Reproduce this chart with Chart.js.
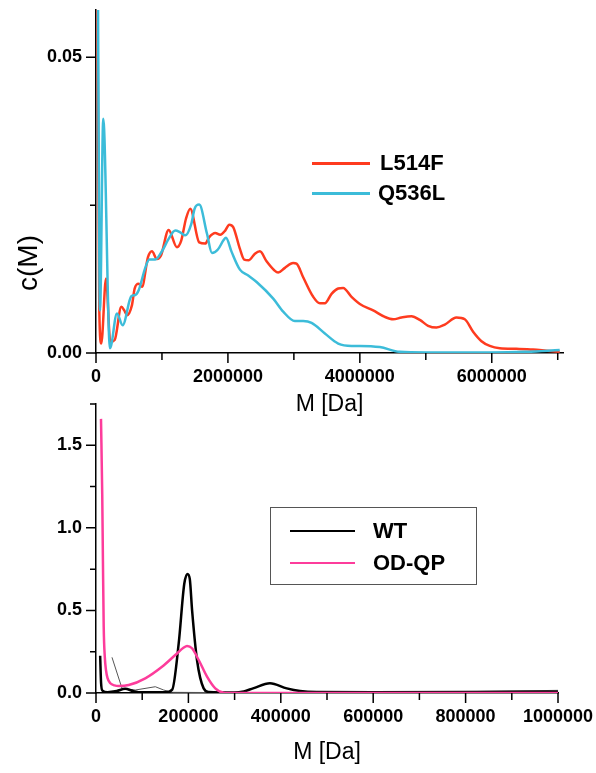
<!DOCTYPE html>
<html><head><meta charset="utf-8">
<script src="https://cdn.jsdelivr.net/npm/chart.js@4/dist/chart.umd.min.js"></script>
<style>
html,body{margin:0;padding:0;background:#fff;}
#wrap{position:relative;width:596px;height:773px;overflow:hidden;font-family:"Liberation Sans",Arial,Helvetica,sans-serif;}
#c1{position:absolute;left:0;top:0;}
#c2{position:absolute;left:0;top:390px;}
.t{position:absolute;font-weight:bold;font-size:22px;color:#000;line-height:22px;white-space:nowrap;}
.ln{position:absolute;height:2.5px;}
#ytitle{position:absolute;font-size:28px;line-height:28px;color:#000;white-space:nowrap;transform:translate(-50%,-50%) rotate(-90deg);left:28px;top:263px;}
#box{position:absolute;left:270px;top:507px;width:205px;height:76px;border:1.5px solid #555;}
</style></head>
<body>
<div id="wrap">
<canvas id="c1" width="596" height="418"></canvas>
<canvas id="c2" width="596" height="383"></canvas>
<div id="ytitle">c(M)</div>
<div class="ln" style="left:312px;width:58px;top:162px;background:#fe3b1f"></div>
<div class="t" style="left:380px;top:152px">L514F</div>
<div class="ln" style="left:312px;width:58px;top:192px;background:#3cbcd9"></div>
<div class="t" style="left:378px;top:182px">Q536L</div>
<div id="box"></div>
<div class="ln" style="left:290px;width:65px;top:530px;height:2px;background:#000"></div>
<div class="t" style="left:373px;top:520px">WT</div>
<div class="ln" style="left:290px;width:65px;top:562px;height:2px;background:#fd3c9b"></div>
<div class="t" style="left:373px;top:552px">OD-QP</div>
</div>
<script>
// ---- top panel data ----
const massL514F = [20000,50000,80000,152000,217000,283000,384000,429000,470000,545000,586000,647000,697000,788000,848000,924000,985000,1101000,1227000,1292000,1364000,1429000,1565000,1656000,1717000,1808000,1883000,1959000,2020000,2080000,2182000,2247000,2318000,2409000,2485000,2586000,2702000,2762000,2864000,2989000,3040000,3141000,3293000,3394000,3470000,3571000,3672000,3747000,3874000,4000000,4202000,4379000,4505000,4631000,4783000,4909000,5035000,5162000,5288000,5465000,5591000,5717000,5844000,5970000,6121000,6374000,6626000,6828000,7030000];
const cL514F = [0.065,0.0072,0.0016,0.0126,0.0019,0.0022,0.0078,0.0072,0.0064,0.0081,0.0109,0.0117,0.0112,0.0162,0.0172,0.0159,0.0165,0.0208,0.0179,0.0190,0.0227,0.0244,0.0187,0.0185,0.0196,0.0203,0.0200,0.0207,0.0217,0.0213,0.0176,0.0158,0.0157,0.0168,0.0172,0.0155,0.0140,0.0136,0.0144,0.0152,0.0151,0.0128,0.0095,0.0084,0.0084,0.0100,0.0109,0.0110,0.0095,0.0083,0.0072,0.0061,0.0057,0.0060,0.0062,0.0056,0.0046,0.0043,0.0048,0.0060,0.0057,0.0036,0.0020,0.0012,0.0008,0.0007,0.0006,0.0004,0.0002];
const massQ536L = [25000,61000,110000,212000,318000,404000,535000,595000,647000,747000,808000,899000,1000000,1101000,1202000,1277000,1353000,1444000,1495000,1565000,1682000,1758000,1848000,1935000,1970000,2056000,2182000,2308000,2435000,2687000,2838000,3015000,3141000,3268000,3470000,3672000,3874000,4000000,4303000,4606000,5000000,6000000,6500000,7030000];
const cQ536L = [0.07,0.0072,0.0396,0.0008,0.0067,0.0047,0.0096,0.0098,0.0106,0.0144,0.0158,0.0158,0.0172,0.0193,0.0207,0.0204,0.0199,0.0218,0.0244,0.0251,0.0202,0.0169,0.0175,0.0191,0.0195,0.0171,0.0141,0.0131,0.0120,0.0092,0.0070,0.0054,0.0054,0.0051,0.0033,0.0016,0.0012,0.0012,0.0010,0.0002,0.0001,0.0001,0.0002,0.0005];
const topXTicks = [0,1000000,2000000,3000000,4000000,5000000,6000000,7000000];
const topXLabeled = [0,2000000,4000000,6000000];
const topYTicks = [0,0.025,0.05];
const topYLabeled = [0,0.05];

// ---- bottom panel data ----
const massWT = [9000,11000,14000,25000,45000,63000,80000,100000,150000,165000,179000,191000,198000,203000,208000,218600,233000,244000,300000,320000,340000,376600,412800,441600,477700,600000,800000,1000000];
const cWT = [0.226,0.06,0.015,0.005,0.012,0.025,0.012,0.004,0.004,0.02,0.30,0.66,0.72,0.69,0.5,0.2,0.028,0.006,0.003,0.01,0.028,0.059,0.028,0.012,0.006,0.005,0.006,0.008];
const massWTthin = [34600,56300,85000,128400,146500,165000,300000,600000,800000,1000000];
const cWTthin = [0.216,0.028,0.018,0.038,0.018,0.004,0.002,0.004,0.008,0.016];
const massODQP = [10800,13500,15000,16700,19000,21600,25000,31000,40000,49100,70800,106700,142900,171600,190000,197000,207800,222300,240300,258200,276400,300000,400000,600000,800000,1000000];
const cODQP = [1.66,1.2,0.8,0.4,0.22,0.139,0.09,0.059,0.046,0.042,0.048,0.089,0.159,0.230,0.275,0.285,0.271,0.2,0.099,0.028,0.002,0,0,0,0,0];
const botXTicks = [0,100000,200000,300000,400000,500000,600000,700000,800000,900000,1000000];
const botXLabeled = [0,200000,400000,600000,800000,1000000];
const botYTicks = [0,0.25,0.5,0.75,1.0,1.25,1.5,1.75];
const botYLabeled = [0,0.5,1.0,1.5];

const pts = (xs, ys) => xs.map((x,i)=>({x:x,y:ys[i]}));
const near = (v, arr) => arr.some(a => Math.abs(a - v) < 1e-9 * Math.max(1, Math.abs(a)));

const tickMarks = {
  id:'tickMarks',
  afterDraw(chart){
    const ctx = chart.ctx, a = chart.chartArea, xs = chart.scales.x, ys = chart.scales.y;
    ctx.save(); ctx.strokeStyle='#000'; ctx.lineWidth=1.5; ctx.beginPath();
    xs.ticks.forEach(t=>{const p=xs.getPixelForValue(t.value); const L=t.label!==''?10:7; ctx.moveTo(p,a.bottom); ctx.lineTo(p,a.bottom+L);});
    ys.ticks.forEach(t=>{const p=ys.getPixelForValue(t.value); const L=t.label!==''?10:6; ctx.moveTo(a.left-L,p); ctx.lineTo(a.left,p);});
    ctx.stroke(); ctx.restore();
  }
};

const tickFont = {family:'"Liberation Sans", Arial, sans-serif', size:18, weight:'bold'};
const titleFont = {family:'"Liberation Sans", Arial, sans-serif', size:23, weight:'normal'};

function makeScales(xMax, xTicks, xLab, yMax, yTicks, yLab, yDigits, xH){
  return {
    x:{type:'linear', min:0, max:xMax,
       border:{display:true,color:'#000',width:1.5},
       grid:{display:false,drawTicks:false},
       afterBuildTicks:(s)=>{ s.ticks = xTicks.map(v=>({value:v})); },
       ticks:{autoSkip:false, maxRotation:0, minRotation:0, padding:13, color:'#000', font:tickFont,
              callback:(v)=> near(v,xLab) ? String(Math.round(v)) : ''},
       title:{display:true,text:'M [Da]',color:'#000',font:titleFont,padding:0},
       afterFit:(s)=>{s.height=xH; s.paddingLeft=0; s.paddingRight=0;}},
    y:{type:'linear', min:0, max:yMax,
       border:{display:true,color:'#000',width:1.5},
       grid:{display:false,drawTicks:false},
       afterBuildTicks:(s)=>{ s.ticks = yTicks.map(v=>({value:v})); },
       ticks:{autoSkip:false, padding:14, color:'#000', font:tickFont,
              callback:(v)=> near(v,yLab) ? v.toFixed(yDigits) : ''},
       afterFit:(s)=>{s.width=86; s.paddingTop=0; s.paddingBottom=0;}}
  };
}

const common = {responsive:false, animation:false, plugins:{legend:{display:false},tooltip:{enabled:false}},
  elements:{point:{radius:0}}};

new Chart(document.getElementById('c1'), {
  type:'line',
  data:{datasets:[
    {label:'Q536L', data:pts(massQ536L,cQ536L), borderColor:'#3cbcd9', borderWidth:2.5, cubicInterpolationMode:'monotone', fill:false},
    {label:'L514F', data:pts(massL514F,cL514F), borderColor:'#fe3b1f', borderWidth:2.5, cubicInterpolationMode:'monotone', fill:false}
  ]},
  options:Object.assign({}, common, {
    layout:{padding:{left:10,right:33,top:10,bottom:0}},
    scales:makeScales(7080000,topXTicks,topXLabeled,0.058,topYTicks,topYLabeled,2,65)
  }),
  plugins:[tickMarks]
});

new Chart(document.getElementById('c2'), {
  type:'line',
  data:{datasets:[
    {label:'OD-QP', data:pts(massODQP,cODQP), borderColor:'#fd3c9b', borderWidth:2.5, cubicInterpolationMode:'monotone', fill:false},
    {label:'WT', data:pts(massWT,cWT), borderColor:'#000', borderWidth:2.5, cubicInterpolationMode:'monotone', fill:false},
    {label:'WT (2)', data:pts(massWTthin,cWTthin), borderColor:'#555', borderWidth:1, tension:0, fill:false}
  ]},
  options:Object.assign({}, common, {
    layout:{padding:{left:10,right:38,top:14,bottom:7}},
    scales:makeScales(1000000,botXTicks,botXLabeled,1.75,botYTicks,botYLabeled,1,73)
  }),
  plugins:[tickMarks]
});
</script>
</body></html>
